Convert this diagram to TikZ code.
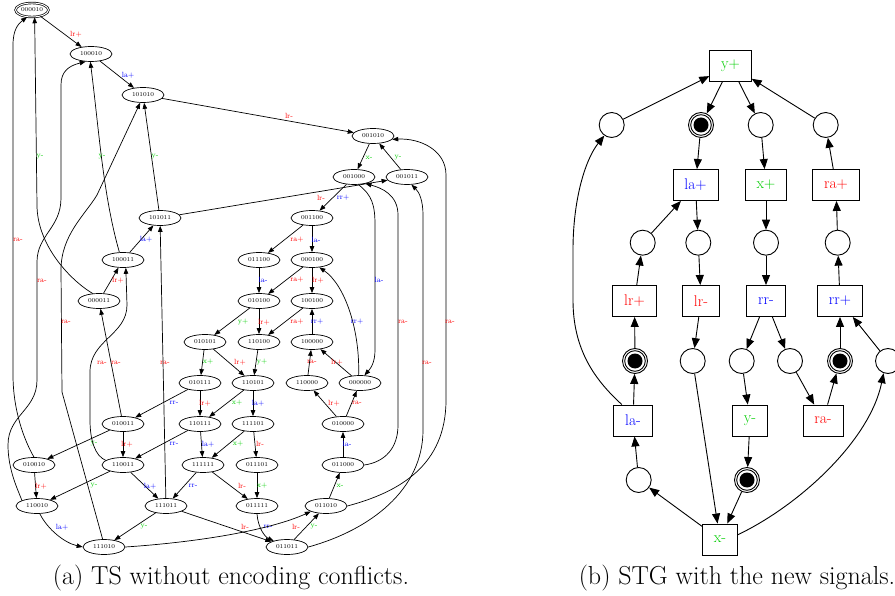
\documentclass[tikz,border=0pt]{standalone}
\usepackage{amsfonts, amssymb, amsmath}
\usepackage{tikz}
\usetikzlibrary{shapes.geometric, arrows.meta}

\definecolor{sigred}{RGB}{255,0,0}
\definecolor{sigblue}{RGB}{0,0,255}
\definecolor{siggreen}{RGB}{0,205,0}

\begin{document}
\begin{tikzpicture}[x=1pt, y=-1pt,
    st/.style={ellipse, draw, line width=0.7pt, minimum width=42pt, minimum height=15pt, inner sep=0pt, font=\fontsize{6}{7}\selectfont},
    ta/.style={-{Triangle[length=6pt, width=4.5pt]}, line width=0.7pt},
    lab/.style={font=\fontsize{7.5}{8}\selectfont, inner sep=0pt},
    pl/.style={circle, draw, line width=0.9pt, minimum size=25pt, inner sep=0pt},
    mk/.style={pl, path picture={\draw[line width=0.9pt] (path picture bounding box.center) circle (10.3pt); \fill (path picture bounding box.center) circle (7.5pt);}},
    tr/.style={rectangle, draw, line width=0.9pt, minimum height=31pt, inner xsep=11.4pt, font=\fontsize{15.5}{18}\selectfont},
    sa/.style={-{Triangle[length=10pt, width=8pt]}, line width=0.9pt}]
    \useasboundingbox (0,0) rectangle (895,596);

    % transition system
    \node[st, double, double distance=1pt, minimum width=33pt, minimum height=14pt] (s000010) at (32,10) {000010};
    \node[st] (s100010) at (91,54) {100010};
    \node[st] (s101010) at (143,95) {101010};
    \node[st] (s001010) at (373,136) {001010};
    \node[st] (s001000) at (354,177) {001000};
    \node[st] (s001011) at (407,177) {001011};
    \node[st] (s101011) at (160,218) {101011};
    \node[st] (s001100) at (312,218) {001100};
    \node[st] (s100011) at (123,260) {100011};
    \node[st] (s011100) at (259,260) {011100};
    \node[st] (s000100) at (312,260) {000100};
    \node[st] (s000011) at (99,301) {000011};
    \node[st] (s010100) at (259,301) {010100};
    \node[st] (s100100) at (312,301) {100100};
    \node[st] (s010101) at (205,342) {010101};
    \node[st] (s110100) at (259,342) {110100};
    \node[st] (s100000) at (312,342) {100000};
    \node[st] (s010111) at (200,383) {010111};
    \node[st] (s110101) at (253,383) {110101};
    \node[st] (s110000) at (307,383) {110000};
    \node[st] (s000000) at (360,383) {000000};
    \node[st] (s010011) at (123,424) {010011};
    \node[st] (s110111) at (200,424) {110111};
    \node[st] (s111101) at (253,424) {111101};
    \node[st] (s010000) at (343,424) {010000};
    \node[st] (s010010) at (34,465) {010010};
    \node[st] (s110011) at (123,465) {110011};
    \node[st] (s111111) at (203,465) {111111};
    \node[st] (s011101) at (257,465) {011101};
    \node[st] (s011000) at (343,465) {011000};
    \node[st] (s110010) at (37,506) {110010};
    \node[st] (s111011) at (166,506) {111011};
    \node[st] (s011111) at (257,506) {011111};
    \node[st] (s011010) at (326,506) {011010};
    \node[st] (s111010) at (104,547) {111010};
    \node[st] (s011011) at (287,547) {011011};

    \draw[ta] (s000010) -- (s100010) node[lab, text=sigred] at (76,34) {lr+};
    \draw[ta] (s100010) -- (s101010) node[lab, text=sigblue] at (128,75) {la+};
    \draw[ta] (s101010) -- (s001010) node[lab, text=sigred] at (289,116) {lr-};
    \draw[ta] (s001010) -- (s001000) node[lab, text=siggreen] at (369,158) {x-};
    \draw[ta] (s001011) -- (s001010) node[lab, text=siggreen] at (398,158) {y-};
    \draw[ta] (s001000) -- (s001100) node[lab, text=sigblue] at (343,198) {rr+};
    \draw[ta] (s101011) -- (s001011) node[lab, text=sigred] at (321,198) {lr-};
    \draw[ta] (s001100) -- (s011100) node[lab, text=sigred] at (297,240) {ra+};
    \draw[ta] (s001100) -- (s000100) node[lab, text=sigblue] at (316,240) {la-};
    \draw[ta] (s011100) -- (s010100) node[lab, text=sigblue] at (263,280) {la-};
    \draw[ta] (s000100) -- (s010100) node[lab, text=sigred] at (297,280) {ra+};
    \draw[ta] (s000100) -- (s100100) node[lab, text=sigred] at (318,280) {lr+};
    \draw[ta] (s010100) -- (s010101) node[lab, text=siggreen] at (243,322) {y+};
    \draw[ta] (s010100) -- (s110100) node[lab, text=sigred] at (264,322) {lr+};
    \draw[ta] (s100100) -- (s110100) node[lab, text=sigred] at (297,322) {ra+};
    \draw[ta] (s100000) -- (s100100) node[lab, text=sigblue] at (317,322) {rr+};
    \draw[ta] (s000000.100) .. controls (360,330) and (345,285) .. (s000100.315) node[lab, text=sigblue] at (357,322) {rr+};
    \draw[ta] (s001000.300) .. controls (372,195) and (375,205) .. (375,225) -- (375,350) .. controls (375,362) and (371,368) .. (s000000.60) node[lab, text=sigblue] at (379,280) {la-};
    \draw[ta] (s010101) -- (s010111) node[lab, text=siggreen] at (208,362) {x+};
    \draw[ta] (s010101) -- (s110101) node[lab, text=sigred] at (240,362) {lr+};
    \draw[ta] (s110100) -- (s110101) node[lab, text=siggreen] at (262,362) {y+};
    \draw[ta] (s110000) -- (s100000) node[lab, text=sigred] at (312,362) {ra-};
    \draw[ta] (s000000) -- (s100000) node[lab, text=sigred] at (337,362) {lr+};
    \draw[ta] (s010000) -- (s110000) node[lab, text=sigred] at (334,403) {lr+};
    \draw[ta] (s010000) -- (s000000) node[lab, text=sigred] at (357,403) {ra-};
    \draw[ta] (s011000) -- (s010000) node[lab, text=sigblue] at (347,444) {la-};
    \draw[ta] (s011010) -- (s011000) node[lab, text=siggreen] at (340,486) {x-};
    \draw[ta] (s011011) -- (s011010) node[lab, text=siggreen] at (314,527) {y-};
    \draw[ta] (s111011) -- (s011011) node[lab, text=sigred] at (245,527) {lr-};
    \draw[ta] (s011111.south) .. controls (258,528) and (265,537) .. (s011011.155) node[lab, text=sigblue] at (268,527) {rr-};
    \draw[ta] (s111010.east) .. controls (200,542) and (270,530) .. (s011010.200) node[lab, text=sigred] at (296,527) {lr-};
    \draw[ta] (s010111) -- (s110111) node[lab, text=sigred] at (205,403) {lr+};
    \draw[ta] (s110101) -- (s110111) node[lab, text=siggreen] at (237,403) {x+};
    \draw[ta] (s110101) -- (s111101) node[lab, text=sigblue] at (258,403) {la+};
    \draw[ta] (s010111) -- (s010011) node[lab, text=sigblue] at (174,403) {rr-};
    \draw[ta] (s110111) -- (s110011) node[lab, text=sigblue] at (174,444) {rr-};
    \draw[ta] (s110111) -- (s111111) node[lab, text=sigblue] at (208,444) {la+};
    \draw[ta] (s111101) -- (s111111) node[lab, text=siggreen] at (238,444) {x+};
    \draw[ta] (s111101) -- (s011101) node[lab, text=sigred] at (260,444) {lr-};
    \draw[ta] (s111111) -- (s111011) node[lab, text=sigblue] at (193,486) {rr-};
    \draw[ta] (s111111) -- (s011111) node[lab, text=sigred] at (242,486) {lr-};
    \draw[ta] (s011101) -- (s011111) node[lab, text=siggreen] at (262,486) {x+};
    \draw[ta] (s010011) -- (s010010) node[lab, text=siggreen] at (94,444) {y-};
    \draw[ta] (s010011) -- (s110011) node[lab, text=sigred] at (127,444) {lr+};
    \draw[ta] (s110011) -- (s110010) node[lab, text=siggreen] at (94,486) {y-};
    \draw[ta] (s110011) -- (s111011) node[lab, text=sigblue] at (150,486) {la+};
    \draw[ta] (s010010) -- (s110010) node[lab, text=sigred] at (41,486) {lr+};
    \draw[ta] (s110010.290) .. controls (48,530) and (65,543) .. (s111010.west) node[lab, text=sigblue] at (62,527) {la+};
    \draw[ta] (s111011) -- (s111010) node[lab, text=siggreen] at (144,527) {y-};
    \draw[ta] (s000011) -- (s100011) node[lab, text=sigred] at (118,280) {lr+};
    \draw[ta] (s100011) -- (s101011) node[lab, text=sigblue] at (146,239) {la+};
    \draw[ta] (s101011) -- (s101010) node[lab, text=siggreen] at (155,157) {y-};
    \draw[ta] (s100011.115) .. controls (103,195) and (99,130) .. (s100010.265) node[lab, text=siggreen] at (102,157) {y-};
    \draw[ta] (s000011.130) .. controls (70,280) and (37,245) .. (37,205) -- (s000010.290) node[lab, text=siggreen] at (40,157) {y-};
    \draw[ta] (s010010.north) .. controls (24,440) and (13,410) .. (13,375) -- (13,45) .. controls (13,30) and (18,24) .. (s000010.235) node[lab, text=sigred] at (18,240) {ra-};
    \draw[ta] (s110010.north west) .. controls (18,490) and (8,470) .. (8,445) .. controls (8,415) and (37,410) .. (37,380) -- (37,262) .. controls (37,235) and (61,228) .. (61,198) -- (61,85) .. controls (61,72) and (68,66) .. (s100010.235) node[lab, text=sigred] at (42,281) {ra-};
    \draw[ta] (s111010.100) -- (62,392) -- (61,270) .. controls (61,235) and (85,215) .. (97,195) -- (s101010.250) node[lab, text=sigred] at (66,322) {ra-};
    \draw[ta] (s110011.165) .. controls (95,456) and (90,440) .. (90,420) -- (90,372) .. controls (90,340) and (127,335) .. (127,305) -- (s100011.290) node[lab, text=sigred] at (102,363) {ra-};
    \draw[ta] (s010011) -- (s000011) node[lab, text=sigred] at (116,363) {ra-};
    \draw[ta] (s111011) -- (s101011) node[lab, text=sigred] at (165,363) {ra-};
    \draw[ta] (s011000.east) .. controls (385,462) and (398,448) .. (398,425) -- (398,215) .. controls (398,195) and (382,188) .. (s001000.330) node[lab, text=sigred] at (403,322) {ra-};
    \draw[ta] (s011011.east) .. controls (370,530) and (423,490) .. (423,430) -- (423,215) .. controls (423,200) and (419,192) .. (s001011.300) node[lab, text=sigred] at (427,363) {ra-};
    \draw[ta] (s011010.east) .. controls (400,492) and (446,465) .. (446,400) -- (446,175) .. controls (446,150) and (420,138) .. (s001010.350) node[lab, text=sigred] at (450,322) {ra-};

    % signal transition graph
    \node[tr, text=siggreen] (typ) at (730.5,65.5) {y+};
    \node[pl] (p1) at (611.7,125) {};
    \node[mk] (p2) at (701,125) {};
    \node[pl] (p3) at (760.7,125) {};
    \node[pl] (p4) at (825.7,125) {};
    \node[tr, text=sigblue] (tlap) at (695.5,185) {la+};
    \node[tr, text=siggreen] (txp) at (766,185) {x+};
    \node[tr, text=sigred] (trap) at (836,185) {ra+};
    \node[pl] (p5) at (642.7,242.7) {};
    \node[pl] (p6) at (698.3,242.7) {};
    \node[pl] (p7) at (766,242.7) {};
    \node[pl] (p8) at (837.7,242.7) {};
    \node[tr, text=sigred] (tlrp) at (634.5,301) {lr+};
    \node[tr, text=sigred] (tlrm) at (701,301) {lr-};
    \node[tr, text=sigblue] (trrm) at (766,301) {rr-};
    \node[tr, text=sigblue] (trrp) at (840,301) {rr+};
    \node[mk] (p9) at (635,361) {};
    \node[pl] (p10) at (692.7,361) {};
    \node[pl] (p11) at (741.7,361) {};
    \node[pl] (p12) at (790,361) {};
    \node[mk] (p13) at (840,361) {};
    \node[pl] (p14) at (888,361) {};
    \node[tr, text=sigblue] (tlam) at (633,420.5) {la-};
    \node[tr, text=siggreen] (tym) at (750,420.5) {y-};
    \node[tr, text=sigred] (tram) at (823,420.5) {ra-};
    \node[pl] (p15) at (638.7,480) {};
    \node[mk] (p16) at (747,480) {};
    \node[tr, text=siggreen] (txm) at (720,539.5) {x-};

    \draw[sa] (typ) -- (p2);
    \draw[sa] (typ) -- (p3);
    \draw[sa] (p1) -- (typ);
    \draw[sa] (p4) -- (typ);
    \draw[sa] (p2) -- (tlap);
    \draw[sa] (p3) -- (txp);
    \draw[sa] (trap) -- (p4);
    \draw[sa] (tlap) -- (p6);
    \draw[sa] (p5) -- (tlap);
    \draw[sa] (txp) -- (p7);
    \draw[sa] (p8) -- (trap);
    \draw[sa] (tlrp) -- (p5);
    \draw[sa] (p6) -- (tlrm);
    \draw[sa] (p7) -- (trrm);
    \draw[sa] (trrp) -- (p8);
    \draw[sa] (p9) -- (tlrp);
    \draw[sa] (tlrm) -- (p10);
    \draw[sa] (trrm) -- (p11);
    \draw[sa] (trrm) -- (p12);
    \draw[sa] (p13) -- (trrp);
    \draw[sa] (p14) -- (trrp);
    \draw[sa] (tlam) -- (p9);
    \draw[sa] (p11) -- (tym);
    \draw[sa] (p12) -- (tram);
    \draw[sa] (tram) -- (p13);
    \draw[sa] (tym) -- (p16);
    \draw[sa] (p10) -- (txm);
    \draw[sa] (p16) -- (txm);
    \draw[sa] (txm) -- (p15);
    \draw[sa] (p15) -- (tlam);
    \draw[sa] (tlam.125) .. controls (595,380) and (573,350) .. (573,300) -- (573,250) .. controls (573,200) and (585,160) .. (p1.235);
    \draw[sa] (txm.15) .. controls (800,505) and (870,440) .. (p14.250);

    \node[font=\fontsize{26}{30}\selectfont, anchor=base] (capa) at (231,584) {(a) TS without encoding conflicts.};
    \node[font=\fontsize{26}{30}\selectfont, anchor=base] (capb) at (737,584) {(b) STG with the new signals.};
\end{tikzpicture}
\end{document}
